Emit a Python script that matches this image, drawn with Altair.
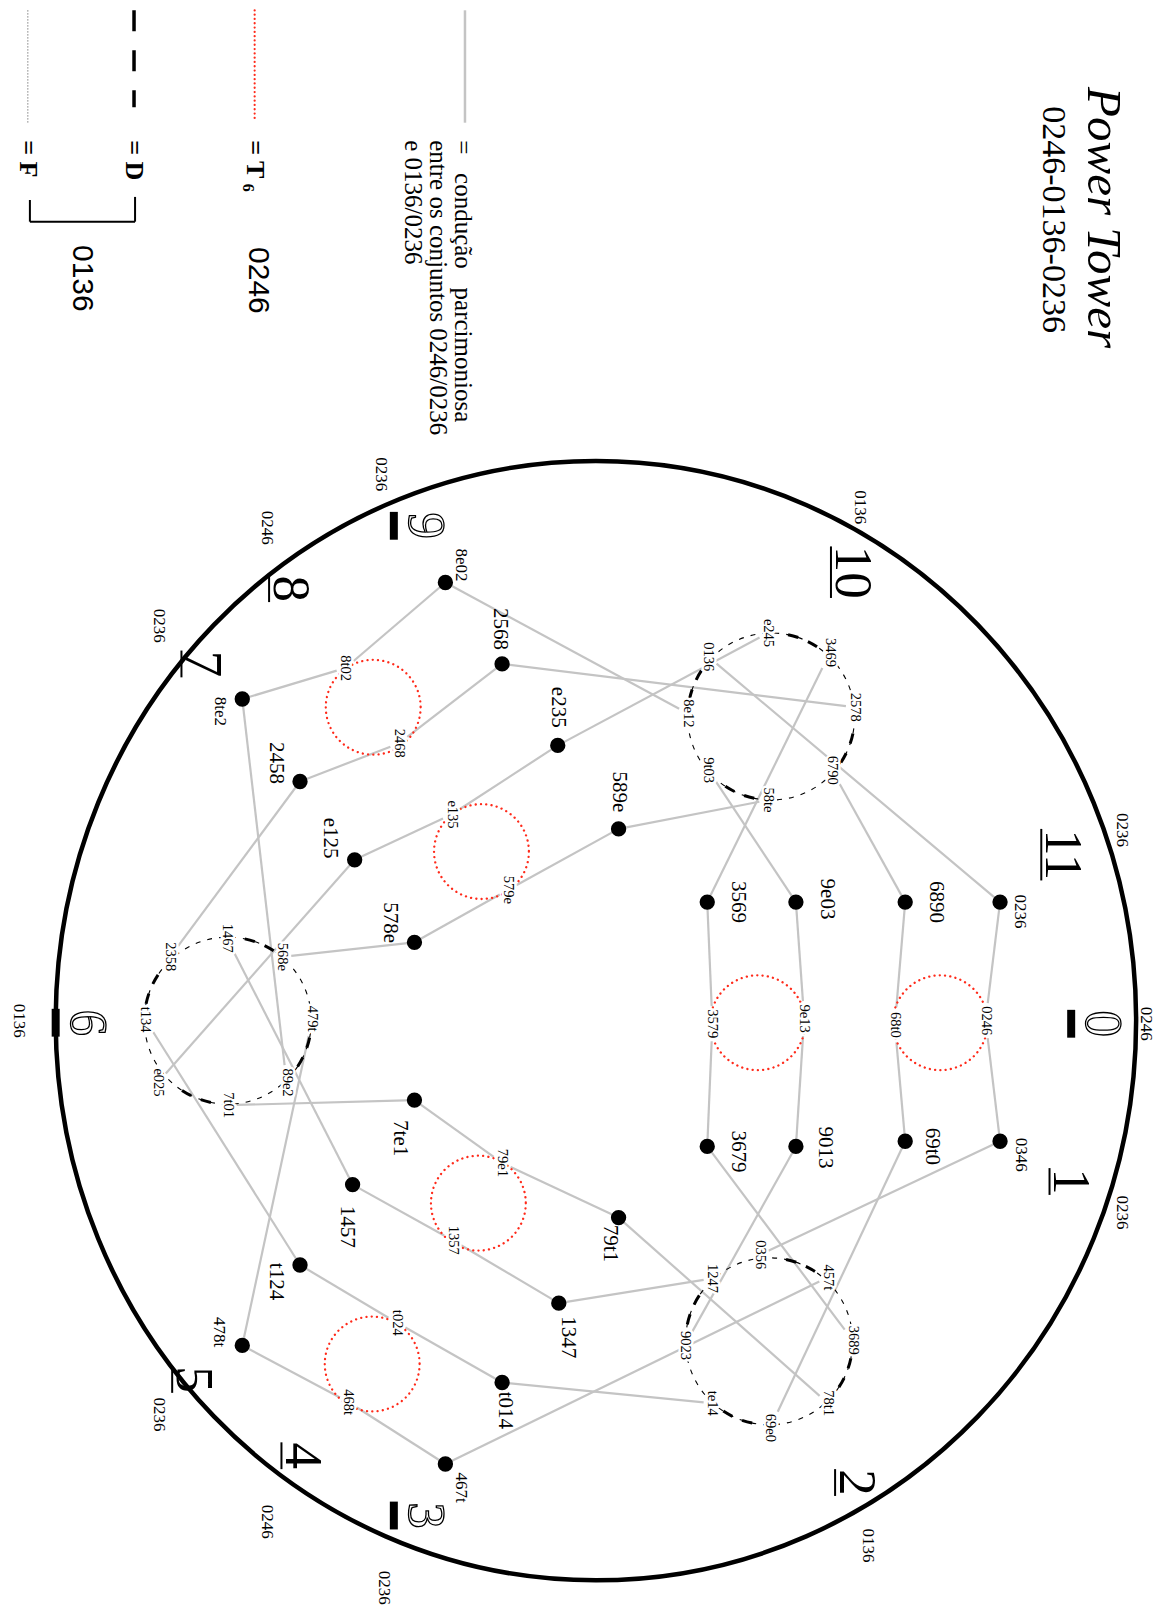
import math
import altair as alt
import pandas as pd

# ---------------- data (diagram units) ----------------
DOT_NAMES = ["0236", "6890", "9e03", "3569", "0346", "69t0", "9013", "3679",
             "8e02", "2568", "e235", "589e", "8te2", "2458", "e125", "578e",
             "7te1", "1457", "t124", "478t", "79t1", "1347", "t014", "467t"]
DOT_X = [970, 878, 772, 686, 970, 878, 772, 686,
         432, 487, 541, 600, 235, 291, 344, 402,
         402, 342, 291, 235, 600, 542, 487, 432]
DOT_Y = [875, 875, 875, 875, 1107, 1107, 1112, 1112,
         565, 644, 723, 804, 678, 758, 834, 914,
         1067, 1149, 1227, 1305, 1181, 1264, 1341, 1420]
DOT_LABEL_X = [989, 908, 802, 716, 990, 904, 800, 716,
               447, 485, 541, 600, 213, 268, 320, 378,
               388, 337, 268, 212, 592, 551, 490, 447]
DOT_LABEL_Y = [884, 875, 872, 875, 1120, 1112, 1113, 1117,
               548, 610, 686, 768, 690, 740, 813, 895,
               1104, 1190, 1243, 1292, 1206, 1297, 1368, 1443]
SMALL_DOT_LABELS = ["0236", "0346", "8e02", "8te2", "478t", "467t"]

RED_CX = [912, 735, 362, 467, 464, 361]
RED_CY = [992, 992, 686, 826, 1167, 1323]
RED_LABELS = ["0246", "68t0", "9e13", "3579", "8t02", "2468",
              "e135", "579e", "79e1", "1357", "t024", "468t"]
RED_LX = [956, 868, 780, 691, 335, 387, 438, 493, 487, 439, 385, 338]
RED_LY = [990, 994, 988, 993, 648, 721, 790, 863, 1128, 1203, 1283, 1360]

DASH_CX = [748, 221, 746]
DASH_CY = [695, 990, 1301]
DASH_LABELS = ["e245", "3469", "2578", "6790", "58te", "9t03", "8e12", "0136",
               "1467", "568e", "479t", "89e2", "7t01", "e025", "t134", "2358",
               "0356", "457t", "3689", "78t1", "69e0", "te14", "9023", "1247"]
DASH_LX = [745, 805, 829, 807, 745, 687, 667, 687,
           220, 274, 303, 278, 221, 153, 141, 165,
           737, 803, 827, 803, 747, 691, 664, 691]
DASH_LY = [614, 633, 686, 747, 776, 747, 692, 637,
           910, 928, 988, 1050, 1072, 1050, 989, 928,
           1217, 1239, 1300, 1361, 1385, 1361, 1305, 1240]

EDGES = [("0236", "0246"), ("0246", "0346"), ("6890", "68t0"), ("68t0", "69t0"),
         ("9e03", "9e13"), ("9e13", "9013"), ("3569", "3579"), ("3579", "3679"),
         ("0236", "0136"), ("6890", "6790"), ("9e03", "9t03"), ("3569", "3469"),
         ("0346", "0356"), ("69t0", "69e0"), ("9013", "9023"), ("3679", "3689"),
         ("8e02", "8t02"), ("8te2", "8t02"), ("2568", "2468"), ("2458", "2468"),
         ("e235", "e135"), ("e125", "e135"), ("589e", "579e"), ("578e", "579e"),
         ("8e02", "8e12"), ("2568", "2578"), ("e235", "e245"), ("589e", "58te"),
         ("8te2", "89e2"), ("2458", "2358"), ("e125", "e025"), ("578e", "568e"),
         ("7te1", "79e1"), ("79t1", "79e1"), ("1457", "1357"), ("1347", "1357"),
         ("t124", "t024"), ("t014", "t024"), ("478t", "468t"), ("467t", "468t"),
         ("7te1", "7t01"), ("1457", "1467"), ("t124", "t134"), ("478t", "479t"),
         ("79t1", "78t1"), ("1347", "1247"), ("t014", "te14"), ("467t", "457t")]

RING_TEXT = ["0", "1", "2", "3", "4", "5", "6", "7", "8", "9", "10", "11"]
RING_X = [1069, 1038, 830, 412, 293, 187, 84, 196, 281, 412, 826, 1030]
RING_Y = [993, 1146, 1438, 1470, 1412, 1338, 992, 644, 571, 510, 555, 829]
OUTER_TEXT = ["0246", "0236", "0136", "0236", "0246", "0236",
              "0136", "0236", "0246", "0236", "0136", "0236"]
OUTER_X = [1112, 1088, 842, 372, 259, 154, 18, 154, 259, 370, 834, 1088]
OUTER_Y = [993, 1176, 1499, 1540, 1476, 1372, 990, 607, 512, 460, 492, 805]

BIG_CENTER = (578, 990)

LEGEND_LINES = ["=\u00a0\u00a0\u00a0condução\u00a0\u00a0\u00a0parcimoniosa",
                "entre os conjuntos 0246/0236",
                "e 0136/0236"]
TITLE = "Power Tower"
SUBTITLE = "0246-0136-0236"

# ---------------- scales ----------------
K = 1165 / 1130.0
SX = alt.Scale(domain=[8 / K, 1157 / K], nice=False, zero=False)
SY = alt.Scale(domain=[8 / K, 1609 / K], nice=False, zero=False, reverse=True)


def ex(f):
    return alt.X(f"{f}:Q", scale=SX, axis=None)


def ey(f):
    return alt.Y(f"{f}:Q", scale=SY, axis=None)


SERIF = "Liberation Serif"
SANS = "Liberation Sans"
GRAY = "#c4c4c4"

# ---------------- tables ----------------
pos = {}
for n, x, y in zip(DOT_NAMES, DOT_X, DOT_Y):
    pos[n] = (x, y, False)
for n, x, y in zip(RED_LABELS, RED_LX, RED_LY):
    pos[n] = (x, y, True)
for n, x, y in zip(DASH_LABELS, DASH_LX, DASH_LY):
    pos[n] = (x, y, True)


def trim(p, q):
    px, py, lab = p
    if not lab:
        return px, py
    dx, dy = q[0] - px, q[1] - py
    L = math.hypot(dx, dy)
    ux, uy = dx / L, dy / L
    hw, hh = 6.5, 15.0
    t = min(hw / abs(ux) if abs(ux) > 1e-6 else 1e9,
            hh / abs(uy) if abs(uy) > 1e-6 else 1e9) + 2
    return px + ux * t, py + uy * t


rows = []
for a, b in EDGES:
    pa, pb = pos[a], pos[b]
    x1, y1 = trim(pa, pb)
    x2, y2 = trim(pb, pa)
    rows.append(dict(x=x1, y=y1, x2=x2, y2=y2))
edges_df = pd.DataFrame(rows)

dots_df = pd.DataFrame(dict(x=DOT_X, y=DOT_Y))
dot_lab_df = pd.DataFrame(dict(x=DOT_LABEL_X, y=DOT_LABEL_Y, t=DOT_NAMES,
                               fs=[17 if n in SMALL_DOT_LABELS else 21 for n in DOT_NAMES]))
small_lab_df = pd.DataFrame(dict(x=RED_LX + DASH_LX, y=RED_LY + DASH_LY,
                                 t=RED_LABELS + DASH_LABELS))
red_df = pd.DataFrame(dict(x=RED_CX, y=RED_CY))
dash_df = pd.DataFrame(dict(x=DASH_CX, y=DASH_CY))

arc_rows = []
for cx, cy in zip(DASH_CX, DASH_CY):
    for k in range(4):
        base = k * math.pi / 2
        for f1, f2 in [(0.26, 0.42), (0.58, 0.74)]:
            arc_rows.append(dict(x=cx, y=cy, t1=base + f1 * math.pi / 4, t2=base + f2 * math.pi / 4))
arc_df = pd.DataFrame(arc_rows)

ring_df = pd.DataFrame(dict(x=RING_X, y=RING_Y, t=RING_TEXT))
ring_df["bold"] = ring_df["t"].isin(["0", "3", "6", "9"])
outer_df = pd.DataFrame(dict(x=OUTER_X, y=OUTER_Y, t=OUTER_TEXT))

bar_rows = []
for x, y, t in zip(RING_X, RING_Y, RING_TEXT):
    if t in ["0", "3", "6", "9"]:
        bar_rows.append(dict(x=x - 30, y=y - 13.5, y2=y + 13.5, kind="bold"))
    else:
        half = 25 if len(t) == 2 else 13
        bar_rows.append(dict(x=x - 20, y=y - half, y2=y + half, kind="thin"))
bars_df = pd.DataFrame(bar_rows)

big_df = pd.DataFrame(dict(x=[BIG_CENTER[0]], y=[BIG_CENTER[1]]))

# ---------------- layers ----------------
RX_PX = 524 * K
ELLIPSE = "M -1 0 A 1 1.036 0 1 1 1 0 A 1 1.036 0 1 1 -1 0 Z"
big = alt.Chart(big_df).mark_point(shape=ELLIPSE, filled=False, stroke="black",
                                   strokeWidth=4.5, opacity=1).encode(
    x=ex("x"), y=ey("y"), size=alt.value((2 * RX_PX) ** 2))

edges = alt.Chart(edges_df).mark_rule(color=GRAY, strokeWidth=2.2).encode(
    x=ex("x"), y=ey("y"), x2=alt.X2("x2"), y2=alt.Y2("y2"))

red = alt.Chart(red_df).mark_point(shape="circle", filled=False, stroke="#ff2a1a",
                                   strokeWidth=2.3, strokeDash=[0.1, 5.2], strokeCap="round",
                                   opacity=1).encode(
    x=ex("x"), y=ey("y"), size=alt.value((2 * 46 * K) ** 2))

dashc = alt.Chart(dash_df).mark_point(shape="circle", filled=False, stroke="black",
                                      strokeWidth=1.1, strokeDash=[5, 7], opacity=1).encode(
    x=ex("x"), y=ey("y"), size=alt.value((2 * 81 * K) ** 2))

RD = 81 * K
thick = alt.Chart(arc_df).mark_arc(color="black", radius=RD + 1.5, radius2=RD - 1.5).encode(
    x=ex("x"), y=ey("y"),
    theta=alt.Theta("t1:Q", scale=None, stack=None), theta2=alt.Theta2("t2"))

halo = alt.Chart(small_lab_df).mark_text(angle=90, align="center", baseline="middle",
                                         font=SERIF, fontSize=14.5, fill="white",
                                         stroke="white", strokeWidth=5, strokeJoin="round").encode(
    x=ex("x"), y=ey("y"), text="t:N")
small_txt = alt.Chart(small_lab_df).mark_text(angle=90, align="center", baseline="middle",
                                              font=SERIF, fontSize=14.5, color="black").encode(
    x=ex("x"), y=ey("y"), text="t:N")

dots = alt.Chart(dots_df).mark_point(shape="circle", filled=True, color="black", opacity=1).encode(
    x=ex("x"), y=ey("y"), size=alt.value(235))

dot_txt = alt.Chart(dot_lab_df).mark_text(angle=90, align="center", baseline="middle",
                                          font=SERIF, color="black").encode(
    x=ex("x"), y=ey("y"), text="t:N", size=alt.Size("fs:Q", scale=None))

ring_plain = alt.Chart(ring_df[~ring_df["bold"]]).mark_text(
    angle=90, align="center", baseline="middle", font=SERIF, fontSize=53, color="black").encode(
    x=ex("x"), y=ey("y"), text="t:N")
ring_hollow = alt.Chart(ring_df[ring_df["bold"]]).mark_text(
    angle=90, align="center", baseline="middle", font=SERIF, fontSize=53,
    fill="white", stroke="black", strokeWidth=1.3).encode(
    x=ex("x"), y=ey("y"), text="t:N")

bars_thin = alt.Chart(bars_df[bars_df["kind"] == "thin"]).mark_rule(color="black", strokeWidth=2).encode(
    x=ex("x"), y=ey("y"), y2=alt.Y2("y2"))
bars_bold = alt.Chart(bars_df[bars_df["kind"] == "bold"]).mark_rule(color="black", strokeWidth=8).encode(
    x=ex("x"), y=ey("y"), y2=alt.Y2("y2"))

outer = alt.Chart(outer_df).mark_text(angle=90, align="center", baseline="middle",
                                      font=SERIF, fontSize=17, color="black").encode(
    x=ex("x"), y=ey("y"), text="t:N")

# ---- legend ----
leg_gray = alt.Chart(pd.DataFrame(dict(x=[451], y=[10], y2=[119]))).mark_rule(
    color=GRAY, strokeWidth=2.5).encode(x=ex("x"), y=ey("y"), y2=alt.Y2("y2"))
leg_red = alt.Chart(pd.DataFrame(dict(x=[247], y=[10], y2=[117]))).mark_rule(
    color="#ff2a1a", strokeWidth=2.2, strokeDash=[0.1, 4.2], strokeCap="round").encode(
    x=ex("x"), y=ey("y"), y2=alt.Y2("y2"))
leg_dash = alt.Chart(pd.DataFrame(dict(x=[130], y=[10], y2=[104]))).mark_rule(
    color="black", strokeWidth=3.5, strokeDash=[21, 19]).encode(
    x=ex("x"), y=ey("y"), y2=alt.Y2("y2"))
leg_dot = alt.Chart(pd.DataFrame(dict(x=[27], y=[10], y2=[119]))).mark_rule(
    color="#666666", strokeWidth=1, strokeDash=[1.2, 1.8]).encode(
    x=ex("x"), y=ey("y"), y2=alt.Y2("y2"))
bracket = alt.Chart(pd.DataFrame(dict(x=[131, 29, 29], y=[191, 215, 194],
                                      x2=[131, 131, 29], y2=[215, 215, 215]))).mark_rule(
    color="black", strokeWidth=2).encode(x=ex("x"), y=ey("y"), x2=alt.X2("x2"), y2=alt.Y2("y2"))

leg_text = alt.Chart(pd.DataFrame(dict(x=[449, 425, 401], y=[136, 136, 136], t=LEGEND_LINES))).mark_text(
    angle=90, align="left", baseline="middle", font=SERIF, fontSize=25, color="black").encode(
    x=ex("x"), y=ey("y"), text="t:N")
leg_eq = alt.Chart(pd.DataFrame(dict(x=[247, 130, 27], y=[136, 136, 136], t=["= T", "= D", "= F"]))).mark_text(
    angle=90, align="left", baseline="middle", font=SERIF, fontSize=26, fontWeight="bold", color="black").encode(
    x=ex("x"), y=ey("y"), text="t:N")
leg_sub = alt.Chart(pd.DataFrame(dict(x=[241], y=[182], t=["6"]))).mark_text(
    angle=90, align="center", baseline="middle", font=SERIF, fontSize=16, fontWeight="bold", color="black").encode(
    x=ex("x"), y=ey("y"), text="t:N")
leg_sets = alt.Chart(pd.DataFrame(dict(x=[250, 80], y=[272, 270], t=["0246", "0136"]))).mark_text(
    angle=90, align="center", baseline="middle", font=SANS, fontSize=30, color="black").encode(
    x=ex("x"), y=ey("y"), text="t:N")

title = alt.Chart(pd.DataFrame(dict(x=[1070], y=[211], t=[TITLE]))).mark_text(
    angle=90, align="center", baseline="middle", font=SERIF, fontSize=49, fontStyle="italic",
    color="black").encode(x=ex("x"), y=ey("y"), text="t:N")
subtitle = alt.Chart(pd.DataFrame(dict(x=[1021], y=[213], t=[SUBTITLE]))).mark_text(
    angle=90, align="center", baseline="middle", font=SERIF, fontSize=34,
    color="black").encode(x=ex("x"), y=ey("y"), text="t:N")

chart = alt.layer(
    big, edges, red, dashc, thick, halo, small_txt, dots, dot_txt,
    bars_thin, bars_bold, ring_plain, ring_hollow, outer,
    leg_gray, leg_red, leg_dash, leg_dot, bracket, leg_text, leg_eq, leg_sub, leg_sets,
    title, subtitle
).properties(
    width=1149, height=1601,
    autosize=alt.AutoSizeParams(type="none"),
    padding=0,
    background="white",
).configure_view(strokeWidth=0, stroke="transparent")

chart.save("out.html", embed_options={"renderer": "svg", "actions": False})
